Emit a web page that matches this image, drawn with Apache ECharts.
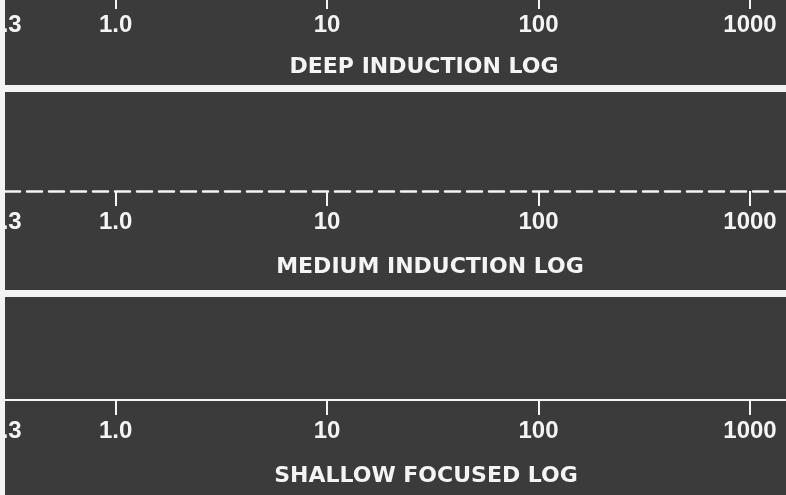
<!DOCTYPE html>
<html>
<head>
<meta charset="utf-8">
<script src="https://cdn.jsdelivr.net/npm/echarts@6/dist/echarts.min.js"></script>
<style>
html,body{margin:0;padding:0;background:#f3f3f3;}
#chart{width:786px;height:495px;}
</style>
</head>
<body>
<div id="chart"></div>
<script>
// Resistivity scale (ohm-m), logarithmic, shared by the three log tracks
const scaleMin = 0.3;
const scaleMax = 1480;
const tickValues = [1, 10, 100, 1000];
const labelValues = [0.3, 1, 10, 100, 1000];
const labelTexts = ['0.3', '1.0', '10', '100', '1000'];
const panelTitles = ['DEEP INDUCTION LOG', 'MEDIUM INDUCTION LOG', 'SHALLOW FOCUSED LOG'];
const lineStyles = ['solid', 'dashed', 'solid'];

// layout (styles only)
const panels = [
  {top: 0,   height: 85,  axisY: -6,  titleX: 424, titleY: 67},
  {top: 92,  height: 198, axisY: 191, titleX: 430, titleY: 267},
  {top: 297, height: 198, axisY: 400, titleX: 426, titleY: 476}
];
const panelColor = '#3b3b3b';
const ink = '#f4f4f4';

const labelMap = {};
labelValues.forEach((v, i) => { labelMap[v] = labelTexts[i]; });

const chart = echarts.init(document.getElementById('chart'), null, {renderer: 'canvas'});

const option = {
  backgroundColor: '#f3f3f3',
  animation: false,
  grid: panels.map(p => ({
    left: 5, right: 0, top: p.top, height: p.height,
    show: true, backgroundColor: panelColor, borderWidth: 0,
    containLabel: false, outerBoundsMode: 'none'
  })),
  xAxis: panels.map((p, i) => ({
    type: 'log',
    logBase: 10,
    gridIndex: i,
    min: scaleMin,
    max: scaleMax,
    position: 'top',
    offset: p.top - p.axisY,
    axisLine: {
      show: true, onZero: false,
      lineStyle: {
        color: ink,
        width: i === 1 ? 2.5 : 2,
        type: lineStyles[i] === 'dashed' ? [15, 7] : 'solid'
      }
    },
    axisTick: {
      show: true, inside: true, length: 15,
      customValues: tickValues,
      lineStyle: {color: ink, width: 2}
    },
    minorTick: {show: false},
    splitLine: {show: false},
    axisLabel: {
      show: true, inside: true, margin: 19,
      customValues: labelValues,
      formatter: v => labelMap[v] !== undefined ? labelMap[v] : String(v),
      color: ink,
      fontFamily: 'Liberation Sans',
      fontWeight: 'bold',
      fontSize: 24
    }
  })),
  yAxis: panels.map((p, i) => ({
    type: 'value', gridIndex: i, show: false, min: 0, max: 1
  })),
  graphic: panels.map((p, i) => ({
    type: 'text',
    x: p.titleX,
    y: p.titleY,
    style: {
      text: panelTitles[i],
      fill: ink,
      font: 'bold 22px "DejaVu Sans"',
      textAlign: 'center',
      textVerticalAlign: 'middle'
    }
  })),
  series: []
};

chart.setOption(option);
</script>
</body>
</html>
